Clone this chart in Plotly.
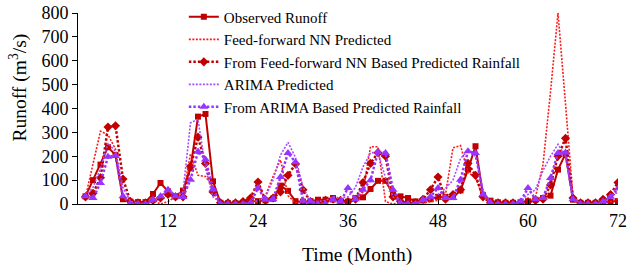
import plotly.graph_objects as go

months = list(range(1, 73))

observed = [32, 100, 165, 238, 205, 20, 10, 8, 8, 42,
            88, 53, 32, 56, 150, 366, 377, 95, 5, 3,
            3, 5, 10, 12, 15, 22, 77, 55, 12, 10,
            12, 18, 18, 25, 12, 10, 25, 28, 63, 97,
            97, 40, 32, 25, 11, 15, 20, 30, 30, 29,
            57, 144, 242, 38, 14, 7, 5, 5, 7, 11,
            18, 25, 35, 144, 210, 18, 5, 5, 5, 8,
            10, 12]

ffnn_pred = [30, 170, 305, 290, 230, 30, 5, 0, 0, 15,
             0, 10, 30, 40, 210, 120, 115, 70, 5, 0,
             0, 2, 5, 10, 35, 115, 185, 35, 5, 5,
             5, 5, 10, 10, 5, 5, 20, 50, 240, 240,
             10, 0, 5, 5, 5, 5, 10, 15, 40, 235,
             245, 130, 115, 25, 5, 0, 0, 0, 5, 10,
             30, 165, 470, 800, 420, 30, 5, 0, 0, 5,
             10, 20]

ffnn_rain = [30, 45, 110, 322, 328, 105, 10, 5, 5, 15,
             25, 40, 30, 30, 158, 280, 170, 50, 5, 5,
             5, 10, 25, 92, 15, 25, 50, 120, 168, 60,
             10, 5, 15, 20, 15, 10, 20, 90, 170, 215,
             200, 30, 10, 5, 5, 20, 60, 113, 20, 40,
             60, 170, 120, 30, 5, 5, 5, 5, 5, 10,
             15, 20, 80, 200, 275, 25, 5, 5, 5, 20,
             40, 90]

arima_pred = [35, 70, 150, 255, 220, 70, 10, 5, 0, 10,
              35, 55, 40, 50, 340, 355, 150, 30, 5, 0,
              0, 0, 5, 15, 30, 100, 205, 258, 195, 70,
              10, 10, 15, 30, 25, 30, 70, 155, 215, 215,
              110, 30, 5, 0, 5, 10, 20, 40, 65, 100,
              190, 225, 200, 60, 5, 0, 0, 0, 10, 40,
              60, 140, 200, 250, 200, 20, 5, 0, 0, 10,
              30, 50]

arima_rain = [32, 25, 88, 198, 202, 32, 0, 0, 0, 18,
              32, 60, 32, 29, 102, 220, 186, 62, 0, 0,
              0, 0, 5, 67, 18, 20, 113, 214, 175, 14,
              10, 0, 0, 18, 10, 67, 20, 60, 100, 218,
              214, 60, 5, 0, 0, 18, 30, 67, 25, 25,
              102, 221, 214, 40, 5, 0, 0, 0, 10, 67,
              20, 25, 109, 214, 216, 20, 0, 0, 0, 10,
              30, 65]

x_ticks = [12, 24, 36, 48, 60, 72]
y_ticks = [0, 100, 200, 300, 400, 500, 600, 700, 800]

FONT = "Liberation Serif, Times New Roman, serif"
DARK_RED = "#c00000"
RED = "#ff1a1a"
PURPLE_L = "#a64dff"
PURPLE = "#9933ff"

fig = go.Figure()
fig.add_trace(go.Scatter(
    x=months, y=observed, name="Observed Runoff", mode="lines+markers",
    line=dict(color=DARK_RED, width=2),
    marker=dict(symbol="square", size=6, color=DARK_RED)))
fig.add_trace(go.Scatter(
    x=months, y=ffnn_pred, name="Feed-forward NN Predicted", mode="lines",
    line=dict(color=RED, width=1.6, dash="2px,1.5px")))
fig.add_trace(go.Scatter(
    x=months, y=ffnn_rain, name="From Feed-forward NN Based Predicted Rainfall",
    mode="lines+markers",
    line=dict(color=DARK_RED, width=2.5, dash="2.5px,2px"),
    marker=dict(symbol="diamond", size=7, color=DARK_RED)))
fig.add_trace(go.Scatter(
    x=months, y=arima_pred, name="ARIMA Predicted", mode="lines",
    line=dict(color=PURPLE_L, width=1.6, dash="2px,1.5px")))
fig.add_trace(go.Scatter(
    x=months, y=arima_rain, name="From ARIMA Based Predicted Rainfall",
    mode="lines+markers",
    line=dict(color=PURPLE, width=2.5, dash="2.5px,2px"),
    marker=dict(symbol="triangle-up", size=8, color=PURPLE)))

fig.update_layout(
    width=630, height=266,
    margin=dict(l=78, r=12, t=13, b=62, autoexpand=False),
    paper_bgcolor="white", plot_bgcolor="white",
    font=dict(family=FONT, color="black"),
    showlegend=True,
    legend=dict(x=0.196, y=1.065, xanchor="left", yanchor="top",
                bgcolor="rgba(0,0,0,0)", font=dict(family=FONT, size=15, color="black"),
                tracegroupgap=0, itemwidth=30),
    xaxis=dict(range=[0, 72], tickvals=x_ticks, ticktext=[str(v) for v in x_ticks],
               ticks="inside", ticklen=5, tickcolor="black",
               showline=True, linecolor="black", linewidth=1,
               showgrid=False, zeroline=False, automargin=False,
               tickfont=dict(family=FONT, size=18, color="black")),
    yaxis=dict(range=[0, 800], tickvals=y_ticks, ticktext=[str(v) for v in y_ticks],
               ticks="outside", ticklen=5, tickcolor="black",
               showline=True, linecolor="black", linewidth=1,
               showgrid=False, zeroline=False, automargin=False,
               tickfont=dict(family=FONT, size=18, color="black")),
    annotations=[
        dict(text="Time (Month)", xref="paper", yref="paper",
             x=0.517, y=-0.267, xanchor="center", yanchor="middle",
             showarrow=False, font=dict(family=FONT, size=19.5, color="black")),
        dict(text="Runoff (m<sup>3</sup>/s)", xref="paper", yref="paper",
             x=-0.111, y=0.61, xanchor="center", yanchor="middle", textangle=-90,
             showarrow=False, font=dict(family=FONT, size=19.5, color="black")),
    ],
)

fig.write_html(
    "out.html",
    config={"displayModeBar": False},
    post_script="document.body.style.margin='0';document.body.style.overflow='hidden';",
)
